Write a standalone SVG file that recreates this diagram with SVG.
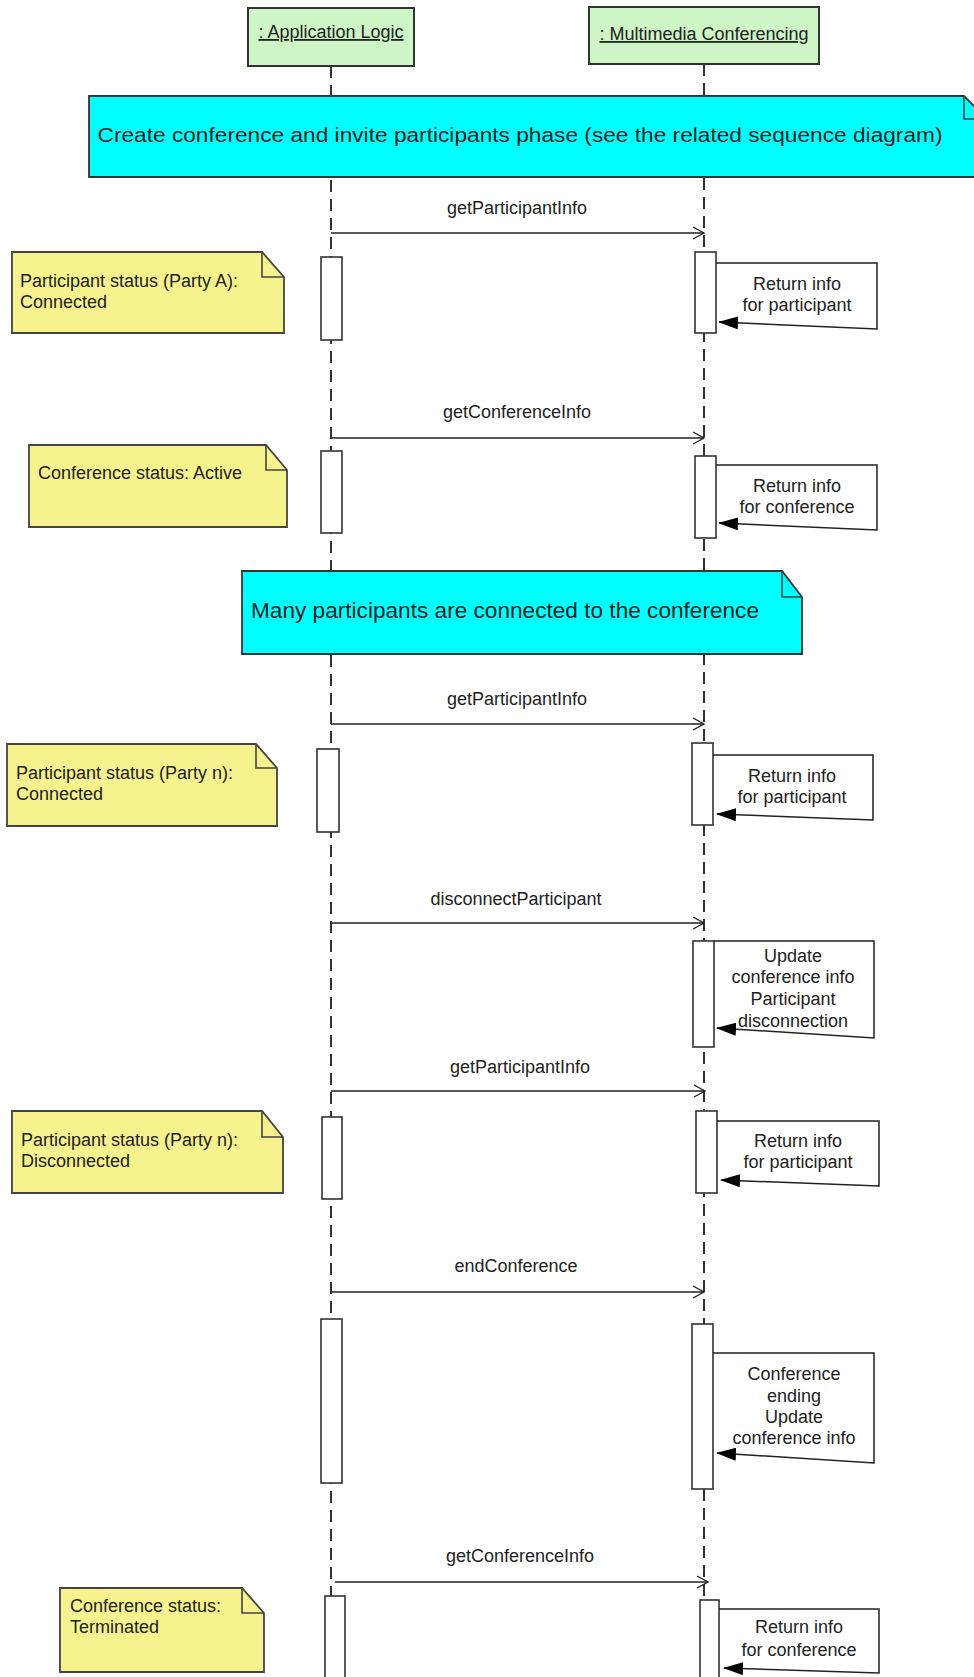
<svg xmlns="http://www.w3.org/2000/svg" width="974" height="1677" viewBox="0 0 974 1677">
<style>
text{font-family:"Liberation Sans",Arial,sans-serif;fill:#222;}
.hdr{fill:#cdf5c6;stroke:#333;stroke-width:2;}
.hdrt{font-size:18px;text-anchor:middle;text-decoration:underline;}
.life{stroke:#333;stroke-width:2;stroke-dasharray:12 7;fill:none;}
.act{fill:#fff;stroke:#333;stroke-width:1.6;}
.note{fill:#f6f38e;stroke:#444;stroke-width:1.8;}
.cyan{fill:#00ffff;stroke:#333;stroke-width:1.8;}
.fold{fill:none;stroke:#444;stroke-width:1.6;}
.nt{font-size:18px;}
.msg{stroke:#222;stroke-width:1.6;fill:none;marker-end:url(#open);}
.ml{font-size:18px;text-anchor:middle;}
.ret{stroke:#222;stroke-width:1.5;fill:none;marker-end:url(#filled);}
.rt{font-size:18px;text-anchor:middle;}
</style>
<defs>
<marker id="open" markerWidth="13" markerHeight="14" refX="12" refY="7" orient="auto" markerUnits="userSpaceOnUse"><path d="M1,1 L12,7 L1,13" fill="none" stroke="#222" stroke-width="1.4"/></marker>
<marker id="filled" markerWidth="20" markerHeight="13" refX="19" refY="6.5" orient="auto" markerUnits="userSpaceOnUse"><path d="M0,0 L20,6.5 L0,13 z" fill="#000"/></marker>
</defs>
<rect width="974" height="1677" fill="#fff"/>

<g id="lifelines">
<line class="life" x1="331" y1="66" x2="331" y2="1677"/>
<line class="life" x1="704" y1="64" x2="704" y2="1677"/>
</g>

<g id="app-logic">
<rect class="hdr" x="248" y="8" width="166" height="58"/>
<text class="hdrt" x="331" y="38">: Application Logic</text>
</g>
<g id="multimedia-conferencing">
<rect class="hdr" x="589" y="7" width="230" height="57"/>
<text class="hdrt" x="704" y="40">: Multimedia Conferencing</text>
</g>

<g id="note-create-phase">
<path class="cyan" d="M89,96 H964 L987,119 V177 H89 Z"/>
<path class="fold" d="M964,96 V119 H987"/>
<text x="97.5" y="142" font-size="20.5" textLength="845" lengthAdjust="spacingAndGlyphs">Create conference and invite participants phase (see the related sequence diagram)</text>
</g>

<g id="note-many-participants">
<path class="cyan" d="M242,571 H782 L802,597 V654 H242 Z"/>
<path class="fold" d="M782,571 V597 H802"/>
<text x="251" y="618" font-size="21.5" textLength="508" lengthAdjust="spacingAndGlyphs">Many participants are connected to the conference</text>
</g>

<g id="note-partyA">
<path class="note" d="M12,252 H262 L284,277 V333 H12 Z"/>
<path class="fold" d="M262,252 V277 H284"/>
<text class="nt" x="20" y="287">Participant status (Party A):</text>
<text class="nt" x="20" y="308">Connected</text>
</g>
<g id="note-conf-active">
<path class="note" d="M29,445 H266 L287,470 V527 H29 Z"/>
<path class="fold" d="M266,445 V470 H287"/>
<text class="nt" x="38" y="479">Conference status: Active</text>
</g>
<g id="note-partyN-connected">
<path class="note" d="M7,744 H256 L277,768 V826 H7 Z"/>
<path class="fold" d="M256,744 V768 H277"/>
<text class="nt" x="16" y="779">Participant status (Party n):</text>
<text class="nt" x="16" y="800">Connected</text>
</g>
<g id="note-partyN-disconnected">
<path class="note" d="M12,1111 H262 L283,1137 V1193 H12 Z"/>
<path class="fold" d="M262,1111 V1137 H283"/>
<text class="nt" x="21" y="1146">Participant status (Party n):</text>
<text class="nt" x="21" y="1167">Disconnected</text>
</g>
<g id="note-conf-terminated">
<path class="note" d="M60,1588 H242 L264,1613 V1672 H60 Z"/>
<path class="fold" d="M242,1588 V1613 H264"/>
<text class="nt" x="70" y="1612">Conference status:</text>
<text class="nt" x="70" y="1633">Terminated</text>
</g>

<g id="activations-app">
<rect class="act" x="321" y="257" width="21" height="83"/>
<rect class="act" x="321" y="451" width="21" height="82"/>
<rect class="act" x="317" y="749" width="22" height="83"/>
<rect class="act" x="322" y="1117" width="20" height="82"/>
<rect class="act" x="321" y="1319" width="21" height="164"/>
<rect class="act" x="325" y="1596" width="20" height="95"/>
</g>
<g id="activations-mm">
<rect class="act" x="695" y="252" width="21" height="81"/>
<rect class="act" x="695" y="456" width="21" height="82"/>
<rect class="act" x="692" y="743" width="21" height="82"/>
<rect class="act" x="693" y="941" width="21" height="106"/>
<rect class="act" x="696" y="1111" width="21" height="82"/>
<rect class="act" x="692" y="1324" width="21" height="165"/>
<rect class="act" x="700" y="1600" width="19" height="90"/>
</g>

<g id="connectors">
<line class="msg" x1="331" y1="233" x2="704" y2="233"/>
<text class="ml" x="517" y="214">getParticipantInfo</text>
<line class="msg" x1="331" y1="438" x2="704" y2="438"/>
<text class="ml" x="517" y="418">getConferenceInfo</text>
<line class="msg" x1="331" y1="724" x2="704" y2="724"/>
<text class="ml" x="517" y="705">getParticipantInfo</text>
<line class="msg" x1="331" y1="923" x2="704" y2="923"/>
<text class="ml" x="516" y="905">disconnectParticipant</text>
<line class="msg" x1="331" y1="1091" x2="705" y2="1091"/>
<text class="ml" x="520" y="1073">getParticipantInfo</text>
<line class="msg" x1="331" y1="1292" x2="704" y2="1292"/>
<text class="ml" x="516" y="1272">endConference</text>
<line class="msg" x1="335" y1="1582" x2="708" y2="1582"/>
<text class="ml" x="520" y="1562">getConferenceInfo</text>

<path class="ret" d="M716,263 H877 V329 L719,322"/>
<text class="rt" x="797" y="290">Return info</text>
<text class="rt" x="797" y="311">for participant</text>

<path class="ret" d="M716,465 H877 V530 L719,523"/>
<text class="rt" x="797" y="492">Return info</text>
<text class="rt" x="797" y="513">for conference</text>

<path class="ret" d="M713,755 H873 V820 L717,814"/>
<text class="rt" x="792" y="782">Return info</text>
<text class="rt" x="792" y="803">for participant</text>

<path class="ret" d="M714,941 H874 V1038 L717,1028"/>
<text class="rt" x="793" y="962">Update</text>
<text class="rt" x="793" y="983">conference info</text>
<text class="rt" x="793" y="1005">Participant</text>
<text class="rt" x="793" y="1027">disconnection</text>

<path class="ret" d="M717,1121 H879 V1186 L721,1180"/>
<text class="rt" x="798" y="1147">Return info</text>
<text class="rt" x="798" y="1168">for participant</text>

<path class="ret" d="M713,1353 H874 V1463 L717,1453"/>
<text class="rt" x="794" y="1380">Conference</text>
<text class="rt" x="794" y="1402">ending</text>
<text class="rt" x="794" y="1423">Update</text>
<text class="rt" x="794" y="1444">conference info</text>

<path class="ret" d="M719,1609 H879 V1673 L724,1668"/>
<text class="rt" x="799" y="1633">Return info</text>
<text class="rt" x="799" y="1656">for conference</text>
</g>
</svg>
